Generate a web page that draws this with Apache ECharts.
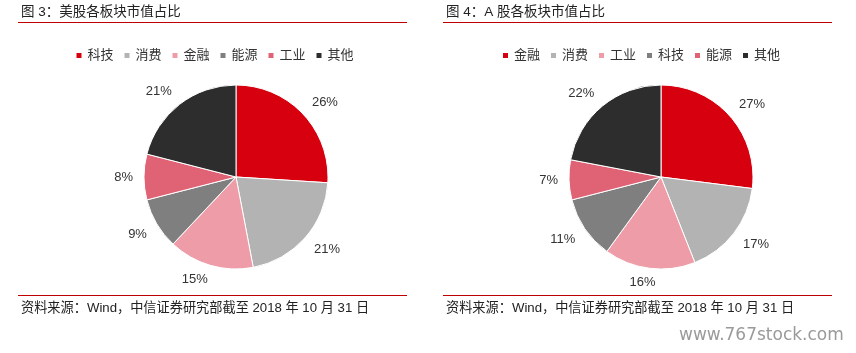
<!DOCTYPE html>
<html>
<head>
<meta charset="utf-8">
<script src="https://cdn.jsdelivr.net/npm/echarts@6/dist/echarts.min.js"></script>
<style>
  html, body { margin: 0; padding: 0; background: #fff; }
  #wrap { position: relative; width: 856px; height: 353px; overflow: hidden; }
  .panel { position: absolute; top: 0; height: 353px; }
</style>
</head>
<body>
<div id="wrap">
  <div id="left" class="panel" style="left:0;width:428px;"></div>
  <div id="right" class="panel" style="left:425px;width:431px;"></div>
</div>
<script>
// 图3 美股
var usTitle = '图 3：美股各板块市值占比';
var usNames = ['科技', '消费', '金融', '能源', '工业', '其他'];
var usValues = [26, 21, 15, 9, 8, 21];

// 图4 A股
var aTitle = '图 4：A 股各板块市值占比';
var aNames = ['金融', '消费', '工业', '科技', '能源', '其他'];
var aValues = [27, 17, 16, 11, 7, 22];

var sourceText = '资料来源：Wind，中信证券研究部截至 2018 年 10 月 31 日';

// 按扇区顺序的配色
var palette = ['#D7000F', '#B3B3B3', '#EE9CA7', '#7F7F7F', '#E06275', '#2D2D2D'];
var FONT = '"Liberation Sans", "Noto Sans CJK SC", sans-serif';
var CX = 236, CY = 177, R = 92;

function draw_panel(domId, title, names, values, withMark) {
    var myChart = echarts.init(document.getElementById(domId));
    var pieData = [];
    names.forEach(function (value, index) {
        pieData.push({ name: value, value: values[index] });
    });

    // 每个扇区中线的方向，用来放标签（类似 Excel 的外侧标签）
    var total = values.reduce(function (a, b) { return a + b; }, 0);
    var dirs = [];
    var acc = 0;
    values.forEach(function (v) {
        var a = (acc + v / 2) / total * Math.PI * 2;
        dirs.push([Math.sin(a), -Math.cos(a)]);
        acc += v;
    });

    var graphics = [
        { type: 'text', left: 21, top: 6,
          style: { text: title, font: '13.5px ' + FONT, fill: '#222' } },
        { type: 'line', shape: { x1: 18, y1: 22.5, x2: 407, y2: 22.5 },
          style: { stroke: '#C00000', lineWidth: 1.2 } },
        { type: 'line', shape: { x1: 18, y1: 295.5, x2: 407, y2: 295.5 },
          style: { stroke: '#C00000', lineWidth: 1.2 } },
        { type: 'text', left: 21, top: 302,
          style: { text: sourceText, font: '13.2px ' + FONT, fill: '#222' } }
    ];
    if (withMark) {
        graphics.push({ type: 'text', left: 254, top: 327,
            style: { text: 'www.767stock.com', font: '17px "DejaVu Sans", sans-serif', fill: '#9A9A9A' } });
    }

    var option = {
        animation: false,
        color: palette,
        textStyle: { fontFamily: FONT },
        legend: {
            data: names,
            left: 'center',
            top: 44,
            icon: 'rect',
            itemWidth: 7,
            itemHeight: 7,
            itemGap: 9,
            textStyle: { fontSize: 13, color: '#333', fontFamily: FONT }
        },
        graphic: graphics,
        series: [{
            type: 'pie',
            center: [CX, CY],
            radius: R,
            startAngle: 90,
            data: pieData,
            itemStyle: { borderColor: '#fff', borderWidth: 1 },
            label: {
                show: true,
                position: 'outside',
                formatter: '{c}%',
                fontSize: 13,
                color: '#333',
                fontFamily: FONT
            },
            labelLine: { show: false },
            labelLayout: function (params) {
                var d = dirs[params.dataIndex];
                var w = params.labelRect.width, h = params.labelRect.height;
                var kx = Math.max(-1, Math.min(1, d[0] * 3));
                var ky = Math.max(-1, Math.min(1, d[1] * 3));
                return {
                    x: CX + d[0] * (R + 8) + kx * (w / 2 + 3),
                    y: CY + d[1] * (R + 8) + ky * (h / 2),
                    align: 'center',
                    verticalAlign: 'middle'
                };
            },
            emphasis: { disabled: true }
        }]
    };
    myChart.setOption(option);
}

draw_panel('left', usTitle, usNames, usValues, false);
draw_panel('right', aTitle, aNames, aValues, true);
</script>
</body>
</html>
